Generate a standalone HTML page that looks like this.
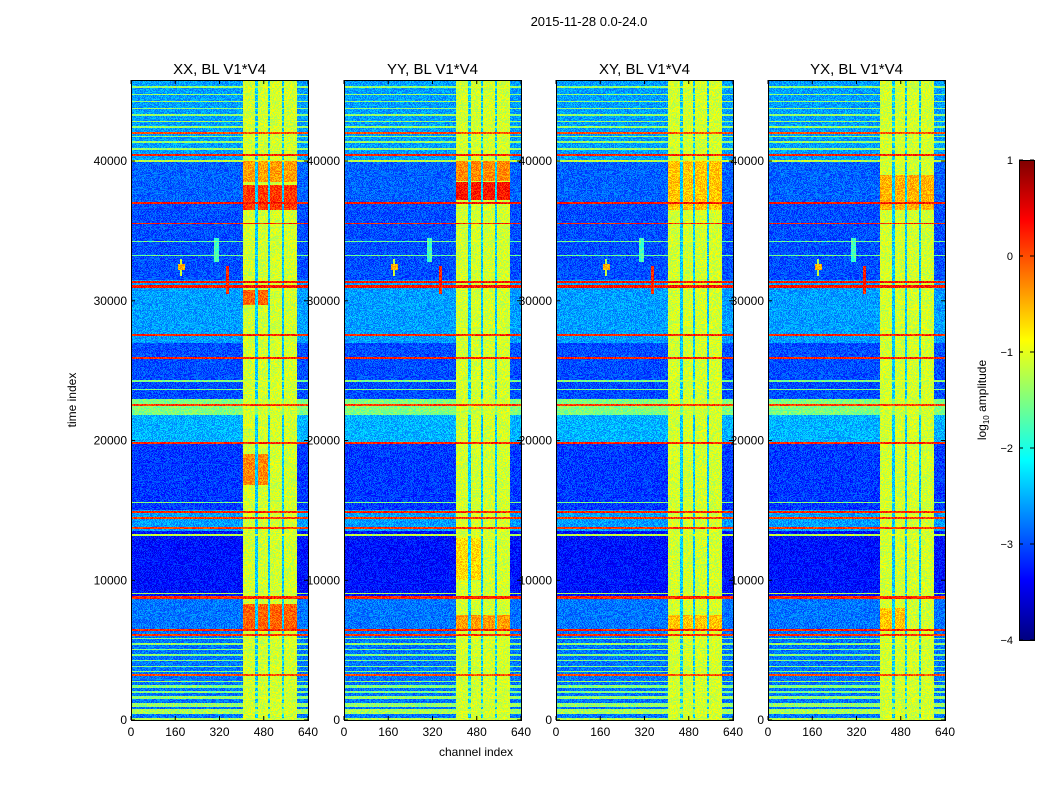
<!DOCTYPE html>
<html><head><meta charset="utf-8">
<style>
body{margin:0;background:#fff;width:1050px;height:800px;overflow:hidden;position:relative;font-family:"Liberation Sans",sans-serif}
canvas{position:absolute;image-rendering:pixelated}
svg{position:absolute;left:0;top:0}
</style></head><body>
<div id="root"></div>
<svg id="ov" width="1050" height="800"></svg>
<script>
// ---- data ----
const panelTitles=["XX, BL V1*V4","YY, BL V1*V4","XY, BL V1*V4","YX, BL V1*V4"];
const xTicks=[0,160,320,480,640];
const yTicks=[0,10000,20000,30000,40000];
const cbTicks=[-4,-3,-2,-1,0,1];
const tMax=45800, chMax=640;
// background level by time segment [t0,t1,level]
const bgSegments=[[0,6500,-2.8],[6500,8700,-2.8],[8700,13500,-3.3],[13500,15000,-2.6],[15000,19800,-3.1],[19800,23000,-2.5],[23000,27000,-3.0],[27000,30500,-2.6],[30500,31500,-2.6],[31500,37000,-3.0],[37000,40000,-2.9],[40000,45800,-2.6]];
// horizontal stripes [t0,t1,level]
const stripes=[[0,150,-1.3],[450,780,-1.3],[900,1200,-1.4],[1500,1700,-1.4],[1900,2100,-1.5],[2300,2500,-1.5],[2700,2800,-1.4],[3400,3500,-1.5],[3800,3900,-1.5],[4200,4300,-1.5],[4600,4700,-1.5],[5000,5100,-1.5],[5400,5500,-1.4],[5800,5900,-1.5],
[3150,3280,0.0],[6000,6120,0.1],[6400,6480,0.2],[8650,8850,0.2],[13700,13780,0.1],[14400,14500,0.1],[14820,14950,0.2],[19750,19900,0.2],[22500,22600,0.1],[25850,25950,0.2],[27500,27600,0.2],[30950,31100,0.3],[31300,31450,0.3],[35500,35600,0.2],[36950,37100,0.3],[40350,40500,0.2],[41950,42050,0.0],
[39900,40050,-1.2],[21800,23000,-1.5],[13200,13300,-1.2],[15500,15600,-1.5],[9000,9100,-1.3],[23600,23700,-1.5],[24200,24300,-1.5],[33200,33300,-1.6],[34200,34300,-1.6],
[40800,40900,-1.4],[41300,41400,-1.4],[41700,41800,-1.4],[42400,42500,-1.4],[42800,42900,-1.4],[43200,43400,-1.4],[43700,43800,-1.4],[44200,44300,-1.4],[44700,44800,-1.4],[45200,45400,-1.4]];
// bright channel segments [c0,c1,level]
const brightCols=[[405,447,-1.1],[458,495,-1.1],[503,546,-1.1],[553,600,-1.1]];
const gapLevel=-2.4;
// per-panel hot blocks [t0,t1,c0,c1,level]
const hot1=[[36500,38300,405,600,0.1],[38500,40000,405,600,-0.4],[29700,30800,405,495,-0.1],[16800,19000,405,495,-0.3],[6500,8300,405,600,-0.1]];
const hot2=[[37200,38500,405,600,0.3],[38600,40000,405,600,-0.3],[6500,7500,405,600,-0.4],[10000,13000,405,495,-0.7]];
const hot3=[[36500,40000,405,600,-0.6],[6500,7500,405,600,-0.6]];
const hot4=[[36500,39000,405,600,-0.5],[6500,8000,405,495,-0.6]];
const hotBlocks=[hot1,hot2,hot3,hot4];
// point features [c0,c1,t0,t1,level]
const features=[[170,195,32200,32600,-0.5],[178,186,31800,33000,-1.2],[345,355,30500,32500,0.2],[300,320,32800,34500,-1.8]];
// ---- layout ----
const panelX=[131,344,556,768], PW=177, PY=80, PH=640;
const cb={x:1019,y:160,w:15,h:480,min:-4,max:1};
function xs(p,c){return panelX[p]+c/chMax*PW}
function ys(t){return PY+PH-t/tMax*PH}
function jet(v){const c=x=>Math.max(0,Math.min(1,x));
 return [c(1.5-Math.abs(4*v-3)),c(1.5-Math.abs(4*v-2)),c(1.5-Math.abs(4*v-1))].map(x=>Math.round(x*255));}
function val(p,c,t){
 let v=-3;for(const s of bgSegments)if(t>=s[0]&&t<s[1])v=s[2];
 for(const s of stripes)if(t>=s[0]&&t<s[1])v=Math.max(v,s[2]);
 if(c>=405&&c<600){let b=gapLevel;for(const s of brightCols)if(c>=s[0]&&c<s[1])b=s[2];
  for(const h of hotBlocks[p])if(t>=h[0]&&t<h[1]&&c>=h[2]&&c<h[3]&&b>-1.5)b=h[4];
  v=Math.max(v,b);}
 for(const f of features)if(c>=f[0]&&c<f[1]&&t>=f[2]&&t<f[3])v=Math.max(v,f[4]);
 return v;}
const root=document.getElementById('root');
for(let p=0;p<4;p++){
 const cv=document.createElement('canvas');
 
 
 cv.width=PW;cv.height=PH;cv.style.left=panelX[p]+'px';cv.style.top=PY+'px';
 const ctx=cv.getContext('2d');const im=ctx.createImageData(PW,PH);
 for(let y=0;y<PH;y++){const t=(PH-y-0.5)/PH*tMax;
  for(let x=0;x<PW;x++){const c=(x+0.5)/PW*chMax;
   let v=val(p,c,t);v+=((((x*7919)^(y*104729)^(p*31))%11)-5)*0.05;
   const col=jet((v-cb.min)/(cb.max-cb.min));const i=(y*PW+x)*4;
   im.data[i]=col[0];im.data[i+1]=col[1];im.data[i+2]=col[2];im.data[i+3]=255;}}
 ctx.putImageData(im,0,0);root.appendChild(cv);}
// colorbar
const cbc=document.createElement('canvas');


cbc.width=cb.w;cbc.height=cb.h;cbc.style.left=cb.x+'px';cbc.style.top=cb.y+'px';
{const ctx=cbc.getContext('2d');for(let y=0;y<cb.h;y++){const col=jet(1-(y+0.5)/cb.h);ctx.fillStyle=`rgb(${col})`;ctx.fillRect(0,y,cb.w,1);}}
root.appendChild(cbc);
// overlay
const NS='http://www.w3.org/2000/svg',ov=document.getElementById('ov');
function el(tag,attrs,txt){const e=document.createElementNS(NS,tag);for(const k in attrs)e.setAttribute(k,attrs[k]);if(txt!=null)e.textContent=txt;ov.appendChild(e);return e;}
const st=el('text',{x:589,y:26,'font-size':13,'text-anchor':'middle',fill:'#000'},'2015-11-28 0.0-24.0');


for(let p=0;p<4;p++){
 const r=el('rect',{x:panelX[p]+0.5,y:PY+0.5,width:PW,height:PH,fill:'none',stroke:'#000'});
 
 
 const tt=el('text',{x:panelX[p]+PW/2,y:74,'font-size':15,'text-anchor':'middle'},panelTitles[p]);
 
 
 for(const v of xTicks){const x=xs(p,v);
  el('line',{x1:x,x2:x,y1:PY+PH,y2:PY+PH-4,stroke:'#000'});el('line',{x1:x,x2:x,y1:PY,y2:PY+4,stroke:'#000'});
  const l=el('text',{x:x,y:736,'font-size':12,'text-anchor':'middle'},String(v));
  
  }
 for(const v of yTicks){const y=ys(v);
  el('line',{x1:panelX[p],x2:panelX[p]+4,y1:y,y2:y,stroke:'#000'});el('line',{x1:panelX[p]+PW,x2:panelX[p]+PW-4,y1:y,y2:y,stroke:'#000'});
  const l=el('text',{x:panelX[p]-4,y:y+4,'font-size':12,'text-anchor':'end'},String(v));
  
  }
}
const xl=el('text',{x:476,y:756,'font-size':12,'text-anchor':'middle'},'channel index');


const yl=el('text',{x:76,y:400,'font-size':12,'text-anchor':'middle',transform:'rotate(-90 76 400)'},'time index');


el('rect',{x:cb.x+0.5,y:cb.y+0.5,width:cb.w,height:cb.h,fill:'none',stroke:'#000'});
for(const v of cbTicks){const y=cb.y+cb.h-(v-cb.min)/(cb.max-cb.min)*cb.h;
 el('line',{x1:cb.x,x2:cb.x+4,y1:y,y2:y,stroke:'#000'});el('line',{x1:cb.x+cb.w,x2:cb.x+cb.w-4,y1:y,y2:y,stroke:'#000'});
 const l=el('text',{x:cb.x-6,y:y+4,'font-size':11,'text-anchor':'end'},(v<0?'\u2212'+(-v):String(v)));
 
 }
const cl=el('text',{x:986,y:400,'font-size':12,'text-anchor':'middle',transform:'rotate(-90 986 400)'});


cl.innerHTML='log<tspan font-size="8" dy="3">10</tspan><tspan dy="-3"> amplitude</tspan>';
</script>
</body></html>
